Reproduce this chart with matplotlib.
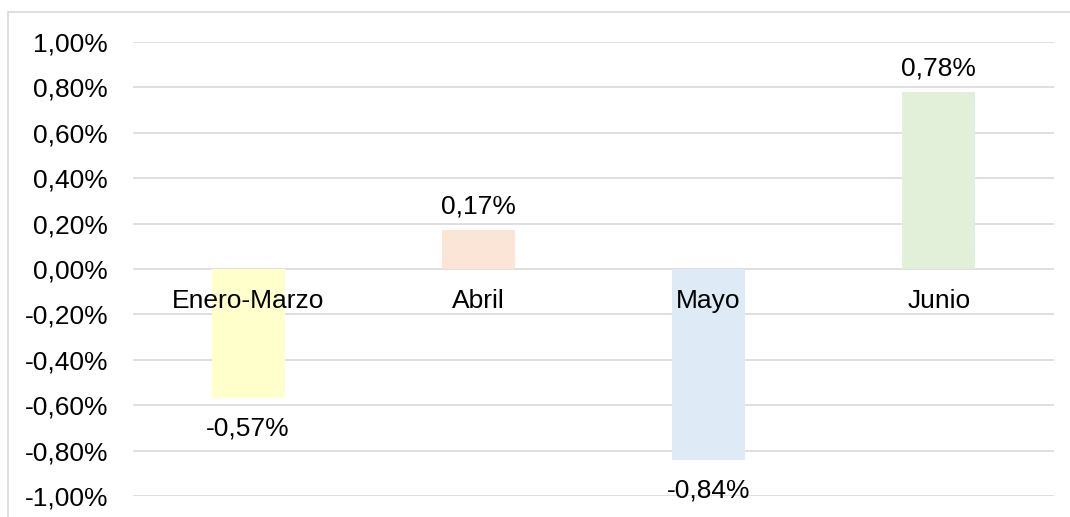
import matplotlib.pyplot as plt
from matplotlib.patches import Rectangle

# Data
categories = ['Enero-Marzo', 'Abril', 'Mayo', 'Junio']
values_pct = [-0.57, 0.17, -0.84, 0.78]
bar_colors = ['#FFFFCC', '#FBE5D6', '#DEEBF7', '#E2F0D9']
y_ticks = [-1.0, -0.8, -0.6, -0.4, -0.2, 0.0, 0.2, 0.4, 0.6, 0.8, 1.0]

plt.rcParams['font.family'] = ['Liberation Sans', 'DejaVu Sans']
font_size = 19


def pct_es(v):
    return f'{v:.2f}%'.replace('.', ',')


fig = plt.figure(figsize=(10.7, 5.17), dpi=100)
ax = fig.add_axes([133 / 1070, 1 - 496 / 517, (1054 - 133) / 1070, (496 - 42) / 517])

# outer chart border
fig.patches.append(Rectangle((8 / 1070, -0.05), 1.2, 1 - 12 / 517 + 0.05,
                             transform=fig.transFigure, fill=False,
                             edgecolor='#D9D9D9', linewidth=1.2))

x = list(range(len(categories)))
ax.bar(x, values_pct, width=0.317, color=bar_colors, zorder=2)

ax.set_ylim(-1.0, 1.0)
ax.set_xlim(-0.5, len(categories) - 0.5)
ax.set_yticks(y_ticks)
ax.set_yticklabels([pct_es(t) for t in y_ticks], fontsize=font_size)
ax.tick_params(axis='y', length=0, pad=18)
ax.set_xticks([])
ax.grid(axis='y', color='#D9D9D9', linewidth=1.2, zorder=1)
for s in ax.spines.values():
    s.set_visible(False)

# category names just below zero line
for xi, name in zip(x, categories):
    ax.annotate(name, (xi, 0), xytext=(0, -23), textcoords='offset points',
                ha='center', va='center', fontsize=font_size, zorder=3)

# value labels
for xi, v in zip(x, values_pct):
    off = 17 if v > 0 else -22
    ax.annotate(pct_es(v), (xi, v), xytext=(0, off), textcoords='offset points',
                ha='center', va='center', fontsize=font_size, zorder=3)

fig.savefig('out.png', dpi=100)
